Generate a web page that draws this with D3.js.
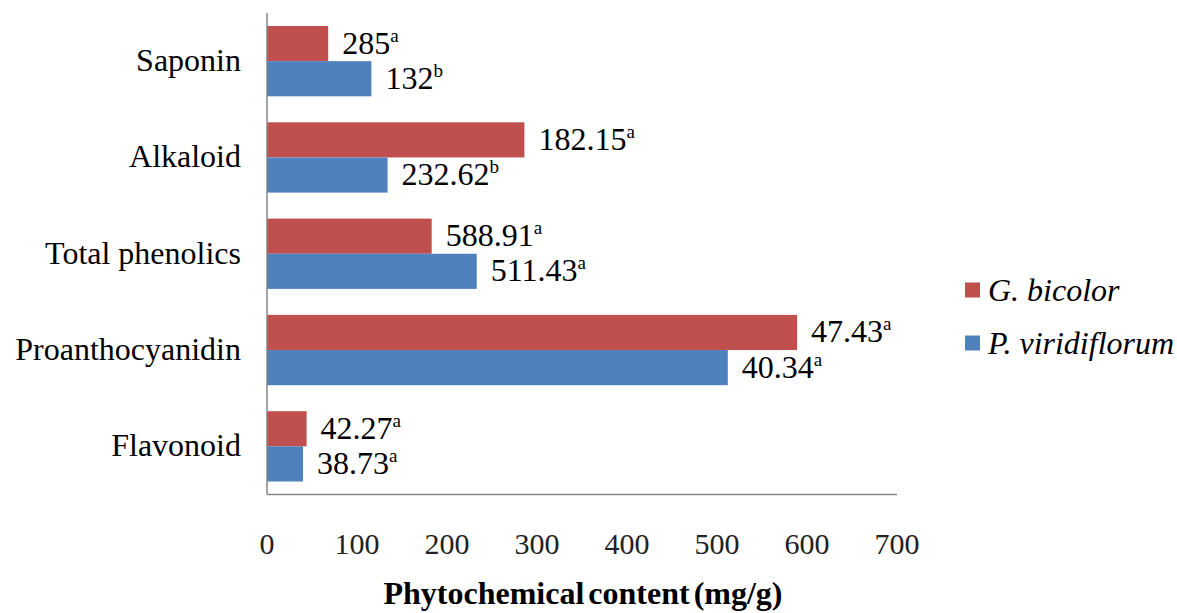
<!DOCTYPE html>
<html><head><meta charset="utf-8">
<script src="https://cdn.jsdelivr.net/npm/d3@7/dist/d3.min.js"></script>
<style>body{margin:0;background:#fff}svg{display:block}</style>
</head><body>
<svg id="c" width="1177" height="613"></svg>
<script>
const categories = ["Saponin","Alkaloid","Total phenolics","Proanthocyanidin","Flavonoid"];
const seriesNames = ["G. bicolor","P. viridiflorum"];
const gBicolor = [68, 286, 183, 589, 44];
const pViridiflorum = [116, 134, 233, 512, 40];
const gLabels = [["285","a"],["182.15","a"],["588.91","a"],["47.43","a"],["42.27","a"]];
const pLabels = [["132","b"],["232.62","b"],["511.43","a"],["40.34","a"],["38.73","a"]];
const xTicks = [0,100,200,300,400,500,600,700];
const colors = ["#C0504D","#4F81BD"];

const svg = d3.select("#c");
const font = "'Liberation Serif','Times New Roman',serif";
const x = d3.scaleLinear().domain([0,700]).range([267,897]);
const y = d3.scaleBand().domain(categories).range([13,494.5]).paddingInner(0.27).paddingOuter(0.135);
const y2 = d3.scaleBand().domain([0,1]).range([0,y.bandwidth()]);

const series = [gBicolor, pViridiflorum];
const labels = [gLabels, pLabels];

series.forEach((vals, s) => {
  svg.append("g").selectAll("rect").data(vals).join("rect")
    .attr("x", x(0))
    .attr("y", (d,i) => y(categories[i]) + y2(s))
    .attr("width", d => x(d) - x(0))
    .attr("height", y2.bandwidth())
    .attr("fill", colors[s]);
  const t = svg.append("g").selectAll("text").data(vals).join("text")
    .attr("x", d => x(d) + 14)
    .attr("y", (d,i) => y(categories[i]) + y2(s) + y2.bandwidth()/2 + 10)
    .attr("font-family", font).attr("font-size", 32).attr("fill", "#000");
  t.append("tspan").text((d,i) => labels[s][i][0]);
  t.append("tspan").attr("font-size", 19).attr("dy", -12).text((d,i) => labels[s][i][1]);
});

// axes lines
svg.append("line").attr("x1", x(0)).attr("x2", x(0)).attr("y1", 13).attr("y2", 494.5)
  .attr("stroke", "#868686").attr("stroke-width", 1.5);
svg.append("line").attr("x1", x(0)).attr("x2", x(700)).attr("y1", 494.5).attr("y2", 494.5)
  .attr("stroke", "#868686").attr("stroke-width", 1.5);

// category labels
svg.append("g").selectAll("text").data(categories).join("text")
  .attr("x", 241).attr("y", d => y(d) + y.bandwidth()/2 + 10)
  .attr("text-anchor", "end").attr("font-family", font).attr("font-size", 32)
  .attr("fill", "#000").text(d => d);

// x tick labels
svg.append("g").selectAll("text").data(xTicks).join("text")
  .attr("x", d => x(d)).attr("y", 554)
  .attr("text-anchor", "middle").attr("font-family", font).attr("font-size", 30)
  .attr("fill", "#222").text(d => d);

// title
svg.append("text").attr("x", 583).attr("y", 604).attr("text-anchor", "middle")
  .attr("font-family", font).attr("font-size", 32).attr("font-weight", "bold")
  .attr("word-spacing", -4)
  .text("Phytochemical content (mg/g)");

// legend
const leg = svg.append("g");
seriesNames.forEach((n, i) => {
  const ly = 290 + i * 53;
  leg.append("rect").attr("x", 965).attr("y", ly - 7.5).attr("width", 15).attr("height", 15).attr("fill", colors[i]);
  leg.append("text").attr("x", 988).attr("y", ly + 11).attr("font-family", font)
    .attr("font-size", 32).attr("font-style", "italic").attr("fill", "#000").text(n);
});
</script>
</body></html>
